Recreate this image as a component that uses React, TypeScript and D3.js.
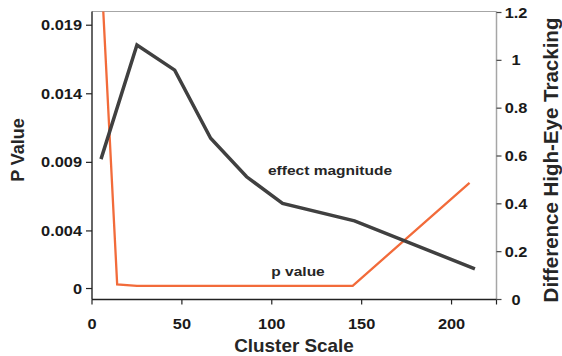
import React from "react";
import * as d3 from "d3";

// Effect magnitude (right axis)
const effectX = [5, 25, 46, 66, 86, 106, 146, 213];
const effectY = [0.587, 1.064, 0.959, 0.674, 0.513, 0.402, 0.329, 0.128];

// P value (left axis)
const pX = [5, 14, 25, 46, 66, 86, 106, 145, 210];
const pY = [0.0233, 0.0001, 0, 0, 0, 0, 0, 0, 0.0075];

const xTicks = [0, 50, 100, 150, 200];
const leftTickValues = [-0.0002, 0.004, 0.009, 0.014, 0.019];
const leftTickLabels = ["0", "0.004", "0.009", "0.014", "0.019"];
const rightTicks = [0, 0.2, 0.4, 0.6, 0.8, 1, 1.2];

const W = 562;
const H = 356;
const left = 92;
const right = 496.5;
const top = 11.5;
const bottom = 299.5;

const FONT = "'Liberation Sans', Arial, sans-serif";

const x = d3.scaleLinear().domain([0, 225]).range([left, right]);
const yL = d3.scaleLinear().domain([-0.001, 0.02]).range([bottom, top]);
const yR = d3.scaleLinear().domain([0, 1.2]).range([bottom, 12.5]);

// text with slight horizontal stretch like the source image
const T = ({ x, y, size, anchor = "middle", sx = 1.17, rotate = 0, fill = "#1a1a1a", children }: any) => (
  <text
    transform={`translate(${x},${y}) rotate(${rotate}) scale(${sx},1)`}
    textAnchor={anchor}
    fontFamily={FONT}
    fontWeight="bold"
    fontSize={size}
    fill={fill}
  >
    {children}
  </text>
);

export default function App() {
  const effectLine = d3
    .line<number>()
    .x((_, i) => x(effectX[i]))
    .y((d) => yR(d));
  const pLine = d3
    .line<number>()
    .x((_, i) => x(pX[i]))
    .y((d) => yL(d));

  return (
    <svg width={W} height={H} style={{ position: "absolute", left: 0, top: 0, background: "#fff" }}>
      <defs>
        <clipPath id="plot">
          <rect x={left} y={top} width={right - left} height={bottom - top} />
        </clipPath>
      </defs>

      {/* frame */}
      <line x1={left} x2={right} y1={top} y2={top} stroke="#a6a6a6" strokeWidth={1.2} />
      <line x1={right} x2={right} y1={top} y2={bottom} stroke="#a6a6a6" strokeWidth={1.5} />
      <line x1={left} x2={left} y1={top} y2={bottom} stroke="#333" strokeWidth={1.5} />
      <line x1={left} x2={right} y1={bottom} y2={bottom} stroke="#222" strokeWidth={1.5} />

      {/* x ticks */}
      {xTicks.map((t) => (
        <g key={"x" + t}>
          <line x1={x(t)} x2={x(t)} y1={bottom} y2={bottom + 5} stroke="#222" strokeWidth={1.2} />
          <T x={x(t)} y={328.5} size={14}>{t}</T>
        </g>
      ))}
      <line x1={right} x2={right} y1={bottom} y2={bottom + 5} stroke="#222" strokeWidth={1.2} />

      {/* left ticks */}
      {leftTickValues.map((t, i) => (
        <g key={"l" + i}>
          <line x1={left - 6} x2={left} y1={yL(t)} y2={yL(t)} stroke="#222" strokeWidth={1.2} />
          <T x={82} y={yL(t) + 5} size={14} anchor="end">{leftTickLabels[i]}</T>
        </g>
      ))}

      {/* right ticks */}
      {rightTicks.map((t) => (
        <g key={"r" + t}>
          <line x1={right} x2={right + 5} y1={yR(t)} y2={yR(t)} stroke="#444" strokeWidth={1.2} />
          <T x={516} y={yR(t) + 5} size={14}>{t}</T>
        </g>
      ))}

      {/* series */}
      <g clipPath="url(#plot)">
        <path d={pLine(pY) || ""} fill="none" stroke="#f26b3a" strokeWidth={2.3} strokeLinejoin="miter" />
        <path d={effectLine(effectY) || ""} fill="none" stroke="#404040" strokeWidth={3.5} strokeLinejoin="miter" />
      </g>

      {/* annotations */}
      <T x={268} y={175} size={13.5} anchor="start" sx={1.15} fill="#262626">effect magnitude</T>
      <T x={298} y={276} size={13.5} sx={1.15} fill="#262626">p value</T>

      {/* axis titles */}
      <T x={294} y={352} size={18} sx={1.05} fill="#262626">Cluster Scale</T>
      <T x={24} y={150} size={18} sx={1} rotate={-90} fill="#262626">P Value</T>
      <T x={558} y={160} size={20.5} sx={1} rotate={-90} fill="#262626">Difference High-Eye Tracking</T>
    </svg>
  );
}
